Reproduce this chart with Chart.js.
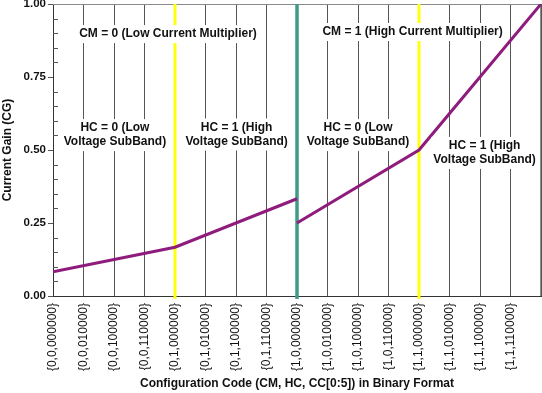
<!DOCTYPE html>
<html>
<head>
<meta charset="utf-8">
<script src="https://cdn.jsdelivr.net/npm/chart.js@4"></script>
<style>
  html, body { margin: 0; padding: 0; background: #fff; }
  #wrap { width: 542px; height: 393px; }
</style>
</head>
<body>
<div id="wrap"><canvas id="cg"></canvas></div>
<script>
// ── data ────────────────────────────────────────────────────────────────
const codeLabels = [
  '{0,0,000000}', '{0,0,010000}', '{0,0,100000}', '{0,0,110000}',
  '{0,1,000000}', '{0,1,010000}', '{0,1,100000}', '{0,1,110000}',
  '{1,0,000000}', '{1,0,010000}', '{1,0,100000}', '{1,0,110000}',
  '{1,1,000000}', '{1,1,010000}', '{1,1,100000}', '{1,1,110000}',
];
const lowCmCodes  = [0, 4, 8];
const lowCmGain   = [0.083, 0.167, 0.333];
const highCmCodes = [8, 12, 16];
const highCmGain  = [0.25, 0.5, 1.0];
const hcDividers  = [4, 12];   // yellow
const cmDivider   = [8];       // teal
const yTickVals   = [0, 0.25, 0.5, 0.75, 1.0];

const FONT = "'Liberation Sans', Arial, Helvetica, sans-serif";

// text notes placed in data units
const notes = [
  { lines: ['CM = 0 (Low Current Multiplier)'],  x: 3.77,  y: 0.897 },
  { lines: ['CM = 1 (High Current Multiplier)'], x: 11.79, y: 0.904 },
  { lines: ['HC = 0 (Low', 'Voltage SubBand)'],  x: 2.03,  y: 0.551 },
  { lines: ['HC = 1 (High', 'Voltage SubBand)'], x: 6.02,  y: 0.553 },
  { lines: ['HC = 0 (Low', 'Voltage SubBand)'],  x: 10.0,  y: 0.551 },
  { lines: ['HC = 1 (High', 'Voltage SubBand)'], x: 14.15, y: 0.490 },
];

const toPts = (xs, ys) => xs.map((x, i) => ({ x, y: ys[i] }));
const vLine = (x, color, width) => ({
  data: [{ x, y: -0.01 }, { x, y: 1 }],
  borderColor: color, borderWidth: width, pointRadius: 0,
  clip: false, order: 2,
});

const frameAndMinor = {
  id: 'frameAndMinor',
  beforeDatasetsDraw(chart) {
    const { ctx, chartArea: a, scales: { y } } = chart;
    ctx.save();
    // top / right frame
    ctx.strokeStyle = '#8a8a8a';
    ctx.lineWidth = 1;
    ctx.beginPath();
    ctx.moveTo(a.left, a.top + 0.5);
    ctx.lineTo(a.right - 0.5, a.top + 0.5);
    ctx.lineTo(a.right - 0.5, a.bottom);
    ctx.stroke();
    // inner minor ticks every 0.05
    ctx.strokeStyle = '#555';
    ctx.beginPath();
    for (let i = 1; i < 20; i++) {
      if (i % 5 === 0) continue;
      const py = Math.round(y.getPixelForValue(i * 0.05)) + 0.5;
      ctx.moveTo(a.left, py);
      ctx.lineTo(a.left + 5, py);
    }
    ctx.stroke();
    ctx.restore();
  },
  afterDatasetsDraw(chart) {
    const { ctx, scales: { x, y } } = chart;
    ctx.save();
    ctx.font = `bold 12px ${FONT}`;
    ctx.textAlign = 'center';
    ctx.textBaseline = 'middle';
    const lh = 14;
    notes.forEach(n => {
      const cx = x.getPixelForValue(n.x);
      const cy = y.getPixelForValue(n.y);
      const w = Math.max(...n.lines.map(t => ctx.measureText(t).width));
      const h = n.lines.length * lh;
      ctx.fillStyle = '#fff';
      ctx.fillRect(cx - w / 2 - 2, cy - h / 2 - 2, w + 4, h + 4);
      ctx.fillStyle = '#111';
      n.lines.forEach((t, i) => ctx.fillText(t, cx, cy - h / 2 + lh / 2 + i * lh));
    });
    ctx.restore();
  },
};

new Chart(document.getElementById('cg'), {
  type: 'line',
  data: {
    datasets: [
      { data: toPts(lowCmCodes, lowCmGain),   borderColor: '#8f1b7c', borderWidth: 3, pointRadius: 0, order: 0 },
      { data: toPts(highCmCodes, highCmGain), borderColor: '#8f1b7c', borderWidth: 3, pointRadius: 0, order: 0 },
      ...hcDividers.map(v => vLine(v, '#ffff10', 3)),
      ...cmDivider.map(v => vLine(v, '#3f9b87', 3.5)),
    ],
  },
  options: {
    responsive: true, maintainAspectRatio: false, animation: false,
    layout: { padding: { top: 4, right: 1, left: 0, bottom: 0 } },
    plugins: { legend: { display: false }, tooltip: { enabled: false } },
    scales: {
      x: {
        type: 'linear', min: 0, max: 16,
        afterFit: s => { s.height = 97; s.paddingLeft = 0; s.paddingRight = 0; },
        afterBuildTicks: s => { s.ticks = codeLabels.map((_, i) => ({ value: i })).concat([{ value: 16 }]); },
        grid: { color: '#555', lineWidth: 1, drawTicks: false },
        border: { color: '#333', width: 1 },
        ticks: {
          autoSkip: false, maxRotation: 90, minRotation: 90, padding: 7,
          color: '#111', font: { family: FONT, size: 12 },
          callback: v => codeLabels[v] ?? '',
        },
        title: {
          display: true, text: 'Configuration Code (CM, HC, CC[0:5]) in Binary Format',
          color: '#111', font: { family: FONT, size: 12, weight: 'bold' },
          padding: { top: 0, bottom: 2 },
        },
      },
      y: {
        min: 0, max: 1,
        afterFit: s => { s.width = 53; s.paddingTop = 0; s.paddingBottom = 0; },
        afterBuildTicks: s => { s.ticks = yTickVals.map(v => ({ value: v })); },
        grid: { drawOnChartArea: false, drawTicks: true, tickLength: 5, color: '#555' },
        border: { color: '#333', width: 1 },
        ticks: {
          padding: 2, color: '#111', font: { family: FONT, size: 11.5, weight: 'bold' },
          callback: v => Number(v).toFixed(2),
        },
        title: {
          display: true, text: 'Current Gain (CG)',
          color: '#111', font: { family: FONT, size: 12, weight: 'bold' },
          padding: { top: 0, bottom: 0 },
        },
      },
    },
  },
  plugins: [frameAndMinor],
});
</script>
</body>
</html>
